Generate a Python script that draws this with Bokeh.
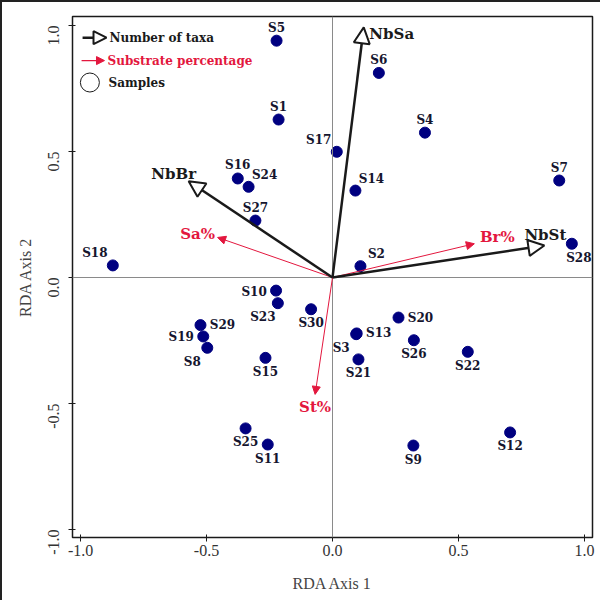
import math
from bokeh.plotting import figure
from bokeh.models import ColumnDataSource, Range1d, Span, Arrow, NormalHead, FixedTicker, CustomJSTickFormatter
from bokeh.core.properties import value
from bokeh.embed import file_html
from bokeh.resources import INLINE

# ---- data ----
samples = ["S1", "S2", "S3", "S4", "S5", "S6", "S7", "S8", "S9", "S10",
           "S11", "S12", "S13", "S14", "S15", "S16", "S17", "S18", "S19", "S20",
           "S21", "S22", "S23", "S24", "S25", "S26", "S27", "S28", "S29", "S30"]
rda1 = [-0.214, 0.111, 0.094, 0.367, -0.222, 0.184, 0.900, -0.497, 0.321, -0.224,
        -0.257, 0.705, 0.096, 0.091, -0.266, -0.376, 0.017, -0.872, -0.513, 0.262,
        0.103, 0.537, -0.217, -0.333, -0.345, 0.323, -0.306, 0.950, -0.524, -0.085]
rda2 = [0.627, 0.045, -0.225, 0.575, 0.940, 0.812, 0.385, -0.279, -0.667, -0.052,
        -0.663, -0.615, -0.222, 0.345, -0.319, 0.393, 0.499, 0.048, -0.234, -0.159,
        -0.325, -0.295, -0.102, 0.360, -0.599, -0.249, 0.226, 0.134, -0.189, -0.126]
label_side = ["t", "tr", "bl", "t", "t", "t", "t", "bl", "b", "l",
              "b", "b", "r", "tr", "b", "t", "tl", "tl", "l", "r",
              "b", "b", "bl", "tr", "b", "b", "t", "br", "r", "b"]

taxa_names = ["NbSa", "NbSt", "NbBr"]
taxa_x = [0.124, 0.841, -0.571]
taxa_y = [0.993, 0.127, 0.382]

subs_names = ["Br%", "Sa%", "St%"]
subs_x = [0.563, -0.456, -0.069]
subs_y = [0.134, 0.159, -0.464]

legend_labels = ["Number of taxa", "Substrate percentage", "Samples"]
axis_ticks = [-1.0, -0.5, 0.0, 0.5, 1.0]

# ---- style ----
RED = "#e3173e"
INK = "#1a1a1a"
PT_TXT = "#15152e"
SERIF = "DejaVu Serif"
TICKF = "Liberation Serif"

side_off = {"t": (0, -13), "b": (0, 14), "l": (-22, 1), "r": (22, 0),
            "tl": (-18, -12), "tr": (16, -12), "bl": (-15, 14), "br": (7, 14)}

p = figure(width=600, height=600,
           x_range=Range1d(-1.032, 1.032), y_range=Range1d(-1.032, 1.036),
           output_backend="svg", toolbar_location=None,
           min_border_left=70, min_border_right=10, min_border_top=14, min_border_bottom=65)
p.styles = {"border-top": "2px solid #222", "border-left": "2px solid #222"}
p.grid.visible = False
p.outline_line_color = INK
p.outline_line_width = 1.5
p.background_fill_color = "white"
p.border_fill_color = "white"

fmt = CustomJSTickFormatter(code="return tick.toFixed(1);")
for ax in (p.xaxis[0], p.yaxis[0]):
    ax.ticker = FixedTicker(ticks=axis_ticks)
    ax.formatter = fmt
    ax.minor_tick_line_color = None
    ax.major_tick_in = 3
    ax.major_tick_out = 4
    ax.major_tick_line_color = INK
    ax.axis_line_color = INK
    ax.major_label_text_font = TICKF
    ax.major_label_text_font_size = "16px"
    ax.major_label_text_color = "#333333"
    ax.axis_label_text_font = TICKF
    ax.axis_label_text_font_size = "16px"
    ax.axis_label_text_font_style = "normal"
    ax.axis_label_text_color = "#444444"

p.xaxis.axis_label = "RDA Axis 1"
p.yaxis.axis_label = "RDA Axis 2"
p.xaxis.major_label_standoff = 3
p.xaxis.axis_label_standoff = 16
p.yaxis.major_label_orientation = math.pi / 2
p.yaxis.major_label_standoff = 15
p.yaxis.axis_label_standoff = 6

p.add_layout(Span(location=0, dimension="width", line_color="#8a8a8a", line_width=1))
p.add_layout(Span(location=0, dimension="height", line_color="#8a8a8a", line_width=1))

# substrate arrows (red)
subs_src = ColumnDataSource(dict(x0=[0.0] * len(subs_x), y0=[0.0] * len(subs_y),
                                 x1=subs_x, y1=subs_y, name=subs_names,
                                 xo=[23, -20, 0], yo=[-7, -3, 13]))
p.add_layout(Arrow(x_start="x0", y_start="y0", x_end="x1", y_end="y1", source=subs_src,
                   line_color=RED, line_width=1,
                   end=NormalHead(size=8, fill_color=RED, line_color=RED, line_width=1)))
p.text(x="x1", y="y1", text="name", source=subs_src, x_offset="xo", y_offset="yo",
       text_font=value(SERIF), text_font_style="bold", text_font_size="15px",
       text_color=RED, text_align="center", text_baseline="middle")

# taxa arrows (black, open head)
taxa_src = ColumnDataSource(dict(x0=[0.0] * len(taxa_x), y0=[0.0] * len(taxa_y),
                                 x1=taxa_x, y1=taxa_y, name=taxa_names,
                                 xo=[28, 1, -15], yo=[7, -11, -7]))
p.add_layout(Arrow(x_start="x0", y_start="y0", x_end="x1", y_end="y1", source=taxa_src,
                   line_color=INK, line_width=2.5,
                   end=NormalHead(size=16, fill_color="white", line_color=INK, line_width=2)))
p.text(x="x1", y="y1", text="name", source=taxa_src, x_offset="xo", y_offset="yo",
       text_font=value(SERIF), text_font_style="bold", text_font_size="15px",
       text_color=INK, text_align="center", text_baseline="middle")

# samples
xo = [side_off[s][0] for s in label_side]
yo = [side_off[s][1] for s in label_side]
samp_src = ColumnDataSource(dict(x=rda1, y=rda2, name=samples, xo=xo, yo=yo))
p.scatter(x="x", y="y", source=samp_src, size=11, fill_color="#000080", line_color="#000080")
p.text(x="x", y="y", text="name", source=samp_src, x_offset="xo", y_offset="yo",
       text_font=value(SERIF), text_font_style="bold", text_font_size="12px",
       text_color=PT_TXT, text_align="center", text_baseline="middle")

# legend (top-left, drawn manually)
leg_y = [0.952, 0.861, 0.774]
leg_tx = [-0.885, -0.893, -0.889]
p.add_layout(Arrow(x_start=-0.992, y_start=leg_y[0], x_end=-0.897, y_end=leg_y[0],
                   line_color=INK, line_width=2.5,
                   end=NormalHead(size=13, fill_color="white", line_color=INK, line_width=2)))
p.add_layout(Arrow(x_start=-0.996, y_start=leg_y[1], x_end=-0.905, y_end=leg_y[1],
                   line_color=RED, line_width=1.2,
                   end=NormalHead(size=8, fill_color=RED, line_color=RED, line_width=1)))
p.scatter(x=[-0.963], y=[leg_y[2]], size=19, fill_color=None, line_color=INK, line_width=1)
leg_src = ColumnDataSource(dict(x=leg_tx, y=leg_y, t=legend_labels, c=[INK, RED, INK]))
p.text(x="x", y="y", text="t", source=leg_src, text_color="c",
       text_font=value(SERIF), text_font_style="bold", text_font_size="12px",
       text_align="left", text_baseline="middle")

open("out.html", "w").write(file_html(p, INLINE))
